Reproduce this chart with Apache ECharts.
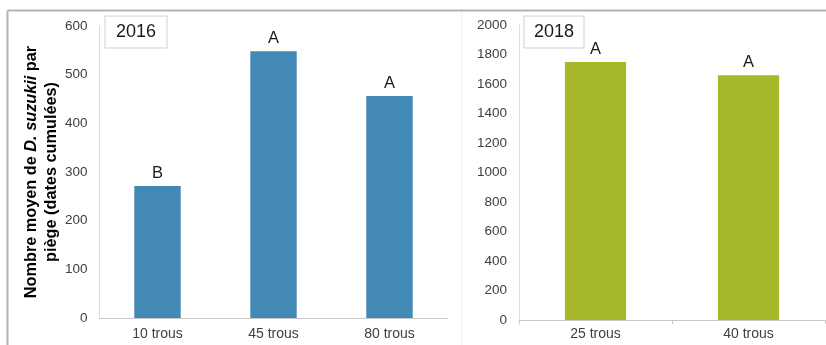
<!DOCTYPE html>
<html>
<head>
<meta charset="utf-8">
<script src="https://cdn.jsdelivr.net/npm/echarts@6/dist/echarts.min.js"></script>
<style>
  html, body { margin: 0; padding: 0; background: #fff; }
  #chart { width: 826px; height: 345px; }
</style>
</head>
<body>
<div id="chart"></div>
<script>
// 2016 trial: mean D. suzukii catches per trap, by number of holes
const categories2016 = ['10 trous', '45 trous', '80 trous'];
const values2016 = [271, 548, 456];
const letters2016 = ['B', 'A', 'A'];

// 2018 trial
const categories2018 = ['25 trous', '40 trous'];
const values2018 = [1750, 1660];
const letters2018 = ['A', 'A'];

const ticks2016 = { min: 0, max: 600, interval: 100 };
const ticks2018 = { min: 0, max: 2000, interval: 200 };

const FONT = '"Liberation Sans", Arial, sans-serif';
const BLUE = '#4389b5';
const GREEN = '#a7b92b';
const TXT = '#404040';

const chart = echarts.init(document.getElementById('chart'), null, { renderer: 'canvas' });

function yearBox(x, y, w, h, label) {
  return {
    type: 'group', left: x, top: y,
    children: [
      { type: 'rect', shape: { x: 0, y: 0, width: w, height: h },
        style: { fill: '#fff', stroke: '#d0d0d0', lineWidth: 1 } },
      { type: 'text', x: w / 2, y: h / 2,
        style: { text: label, font: '18px ' + FONT, fill: '#1a1a1a', align: 'center', verticalAlign: 'middle' } }
    ]
  };
}

function barSeries(xi, values, letters, color) {
  return {
    type: 'bar', xAxisIndex: xi, yAxisIndex: xi,
    data: values, barWidth: '40%',
    itemStyle: { color: color },
    label: {
      show: true, position: 'top', distance: 4,
      formatter: p => letters[p.dataIndex],
      fontFamily: FONT, fontSize: 16.5, color: '#1a1a1a'
    },
    silent: true
  };
}

const plain = v => String(v);

chart.setOption({
  animation: false,
  textStyle: { fontFamily: FONT },
  grid: [
    { left: 99.5, width: 348, top: 26, bottom: 27 },
    { left: 519, width: 306, top: 25, bottom: 25 }
  ],
  xAxis: [
    { type: 'category', gridIndex: 0, data: categories2016,
      axisLine: { lineStyle: { color: '#c8c8c8', width: 1 } },
      axisTick: { show: false },
      axisLabel: { color: TXT, fontSize: 14, margin: 9, fontFamily: FONT } },
    { type: 'category', gridIndex: 1, data: categories2018,
      axisLine: { lineStyle: { color: '#c8c8c8', width: 1 } },
      axisTick: { show: true, length: 4, lineStyle: { color: '#c8c8c8' } },
      axisLabel: { color: TXT, fontSize: 14, margin: 7, fontFamily: FONT } }
  ],
  yAxis: [
    { type: 'value', gridIndex: 0, min: ticks2016.min, max: ticks2016.max, interval: ticks2016.interval,
      axisLine: { show: true, lineStyle: { color: '#dcdcdc' } },
      axisTick: { show: false }, splitLine: { show: false },
      axisLabel: { color: TXT, fontSize: 13.5, margin: 12, fontFamily: FONT, formatter: plain },
      name: '{b|Nombre moyen de }{i|D. suzukii}{b| par}\n{b|piège (dates cumulées)}',
      nameLocation: 'middle', nameRotate: 90, nameGap: 33,
      nameTextStyle: {
        align: 'center', lineHeight: 20,
        rich: {
          b: { fontFamily: FONT, fontSize: 16.3, fontWeight: 'bold', color: '#000', lineHeight: 20 },
          i: { fontFamily: FONT, fontSize: 16.3, fontWeight: 'bold', fontStyle: 'italic', color: '#000', lineHeight: 20 }
        }
      } },
    { type: 'value', gridIndex: 1, min: ticks2018.min, max: ticks2018.max, interval: ticks2018.interval,
      axisLine: { show: true, lineStyle: { color: '#dcdcdc' } },
      axisTick: { show: false }, splitLine: { show: false },
      axisLabel: { color: TXT, fontSize: 13.5, margin: 12, fontFamily: FONT, formatter: plain } }
  ],
  series: [
    barSeries(0, values2016, letters2016, BLUE),
    barSeries(1, values2018, letters2018, GREEN)
  ],
  graphic: [
    // outer frame (top and left edges)
    { type: 'line', shape: { x1: 7.5, y1: 10.5, x2: 826, y2: 10.5 },
      style: { stroke: '#b4b4b4', lineWidth: 2 }, z: 10 },
    { type: 'line', shape: { x1: 7.5, y1: 10.5, x2: 7.5, y2: 345 },
      style: { stroke: '#b4b4b4', lineWidth: 2 }, z: 10 },
    // faint divider between the two panels
    { type: 'line', shape: { x1: 461.5, y1: 11, x2: 461.5, y2: 345 },
      style: { stroke: '#f0f0f0', lineWidth: 1 }, z: 1 },
    yearBox(104.5, 15.5, 62, 32, '2016'),
    yearBox(523.5, 15.5, 60, 32, '2018')
  ]
});
</script>
</body>
</html>
